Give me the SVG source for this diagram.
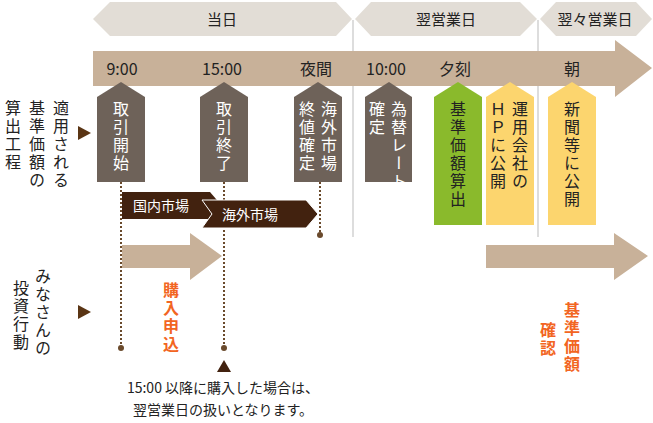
<svg xmlns="http://www.w3.org/2000/svg" width="653" height="423" viewBox="0 0 653 423">
<style>
text{font-family:"Noto Sans CJK JP","Noto Sans",sans-serif;fill:#222}
.v{writing-mode:vertical-rl;font-size:16px;letter-spacing:2px}
.w{fill:#fff}
.band{fill:#e2ddd6}
.bt{font-size:15px;text-anchor:middle}
.tm{font-size:16px;text-anchor:middle}
.brown{fill:#6e6259}
.dot{stroke:#6a4a2c;stroke-width:2;stroke-dasharray:2 2;fill:none}
.or{fill:#f26522;font-weight:bold}
</style>
<g id="bands">
<polygon class="band" points="93,19 110,2 336,2 352,19 336,36 110,36"/>
<polygon class="band" points="355,19 371,2 520,2 537,19 520,36 371,36"/>
<polygon class="band" points="540,19 556,2 636,2 652,19 636,36 556,36"/>
<text class="bt" x="222" y="25">当日</text>
<text class="bt" x="446" y="25">翌営業日</text>
<text class="bt" x="595" y="25">翌々営業日</text>
</g>
<g id="dividers" stroke="#bbb" stroke-width="1">
<line x1="353" y1="20" x2="353" y2="237"/>
<line x1="538" y1="20" x2="538" y2="237"/>
</g>
<g id="timeline">
<polygon fill="#c8b199" points="93,51 615,51 615,40 652,68 615,97 615,86 93,86"/>
<text class="tm" x="122" y="75">9:00</text>
<text class="tm" x="222" y="75">15:00</text>
<text class="tm" x="316" y="75">夜間</text>
<text class="tm" x="386" y="75">10:00</text>
<text class="tm" x="455" y="75">夕刻</text>
<text class="tm" x="572" y="75">朝</text>
</g>
<g id="left-labels">
<text class="v" x="61" y="100">適用される</text>
<text class="v" x="37" y="100">基準価額の</text>
<text class="v" x="13" y="100">算出工程</text>
<polygon fill="#5a3514" points="78,126 91,133 78,140"/>
<text class="v" x="43" y="268">みなさんの</text>
<text class="v" x="21" y="280">投資行動</text>
<polygon fill="#5a3514" points="78,305 91,312 78,319"/>
</g>
<g id="connectors">
<line class="dot" x1="121" y1="182" x2="121" y2="347"/>
<line class="dot" x1="224" y1="182" x2="224" y2="347"/>
<line class="dot" x1="320" y1="182" x2="320" y2="233"/>
<circle cx="121" cy="348" r="3" fill="#6a4a2c"/>
<circle cx="224" cy="348" r="3" fill="#6a4a2c"/>
<circle cx="320" cy="235" r="3" fill="#6a4a2c"/>
</g>
<g id="n1"><polygon class="brown" points="97,97 121,82 145,97 145,182 97,182"/><text class="v w" x="121" y="101">取引開始</text></g>
<g id="n2"><polygon class="brown" points="200,97 224,82 248,97 248,182 200,182"/><text class="v w" x="224" y="101">取引終了</text></g>
<g id="n3"><polygon class="brown" points="294,97 318,82 342,97 342,182 294,182"/><text class="v w" x="329" y="101">海外市場</text><text class="v w" x="307" y="101">終値確定</text></g>
<g id="n4"><polygon class="brown" points="365,97 389,82 412,97 412,182 365,182"/><text class="v w" x="399" y="101">為替レート</text><text class="v w" x="377" y="101">確定</text></g>
<g id="n5"><polygon fill="#8aba2c" points="434,97 458,82 482,97 482,225 434,225"/><text class="v" x="458" y="101">基準価額算出</text></g>
<g id="n6"><polygon fill="#fcd56e" points="486,97 510,82 534,97 534,225 486,225"/><text class="v" x="520" y="101">運用会社の</text><text class="v" x="498" y="101">ＨＰに公開</text></g>
<g id="n7"><polygon fill="#fcd56e" points="548,97 572,82 596,97 596,225 548,225"/><text class="v" x="572" y="101">新聞等に公開</text></g>
<g id="markets">
<polygon fill="#42220f" points="122,192 210,192 222,206 210,219 122,219"/>
<text class="w" x="133" y="211" font-size="14">国内市場</text>
<polygon fill="#42220f" stroke="#fff" stroke-width="1" points="202,200 306,200 318,214 306,228 202,228 212,214"/>
<text class="w" x="222" y="220" font-size="14">海外市場</text>
</g>
<g id="actions">
<polygon fill="#c8b199" points="122,245 190,245 190,233 222,256 190,280 190,268 122,268"/>
<polygon fill="#c8b199" points="486,245 614,245 614,233 648,256 614,280 614,268 486,268"/>
<text class="v or" x="171" y="282">購入申込</text>
<text class="v or" x="572" y="302">基準価額</text>
<text class="v or" x="548" y="322">確認</text>
</g>
<g id="note">
<polygon fill="#42220f" points="224,360 231,372 217,372"/>
<text x="223" y="393" font-size="14" text-anchor="middle">15:00 以降に購入した場合は、</text>
<text x="223" y="415" font-size="14" text-anchor="middle">翌営業日の扱いとなります。</text>
</g>
</svg>
